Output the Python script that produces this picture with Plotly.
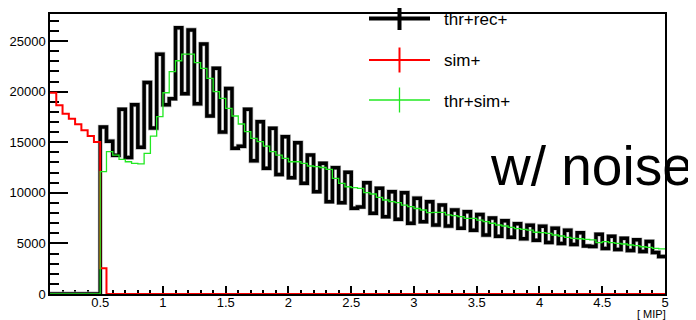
import numpy as np
import plotly.graph_objects as go

# ---------------- data ----------------
X_MIN, X_MAX, BIN_W = 0.1, 5.0, 0.05
Y_MAX = 27670

# sim+ (red)
sim_plus = [19900, 18650, 17820, 17330, 16770, 16170, 15610, 15020,
            2540] + [0] * 89

# thr+sim+ (green)
thr_sim_plus = [0] * 8 + [
    12100, 14060, 13730, 13300, 13070, 12910, 12850, 13900, 15610, 17520,
    19890, 21970, 23050, 23700, 23700, 22860, 22300, 21300, 19990, 19340,
    18350, 17590, 16800, 16040, 15380, 15050, 14620, 14060, 13730, 13410,
    13070, 13070, 12910, 12650, 12580, 12500, 12320, 11430, 10940, 10600,
    10510, 10440, 10010, 9880, 9550, 9290, 9120, 9020, 8790, 8630,
    8450, 8300, 8040, 8070, 8060, 7810, 7740, 7640, 7480, 7480,
    7310, 7150, 6990, 6820, 6720, 6590, 6460, 6390, 6320, 6100,
    6060, 6000, 5830, 5730, 5600, 5500, 5460, 5400, 5340, 5070,
    5170, 5070, 5010, 4940, 4840, 4780, 4670, 4600, 4510, 4450]

# thr+rec+ (black)
thr_rec_plus = [0] * 8 + [
    16500, 15100, 13700, 18250, 13500, 18700, 14500, 20900, 16400, 23700,
    18700, 19300, 26300, 19800, 26100, 18800, 24700, 17600, 22300, 16000,
    20300, 14400, 14600, 18250, 13170, 17030, 12420, 16370, 11800, 15550,
    11500, 14950, 10940, 13730, 10110, 12910, 9120, 12480, 9020, 12020,
    8470, 8600, 11000, 7970, 10440, 7640, 10110, 7380, 10010, 6990,
    9460, 7150, 9120, 6820, 8790, 6720, 8300, 6500, 8130, 6300,
    7850, 5830, 7500, 5700, 7250, 5600, 6950, 5450, 6800, 5300,
    6700, 5100, 6500, 5000, 6300, 4900, 6050, 4750, 4700, 5900,
    4500, 5700, 4400, 5500, 4300, 5350, 4200, 5200, 4100, 3700]

series_names = ["thr+rec+", "sim+", "thr+sim+"]
series_colors = ["#000000", "#ff0000", "#22e822"]
series_widths = [3.5, 2, 1.3]

# ---------------- figure ----------------
edges = np.round(np.arange(X_MIN, X_MAX + BIN_W / 2, BIN_W), 4)

def step_y(vals):
    return list(vals) + [vals[-1]]

fig = go.Figure()
# halo under the thick black histogram
fig.add_trace(go.Scatter(x=edges, y=step_y(thr_rec_plus), mode="lines",
                         line=dict(shape="hv", color="#b8b8b8", width=4.8),
                         hoverinfo="skip", showlegend=False))
for vals, name, col, w in zip([thr_rec_plus, sim_plus, thr_sim_plus],
                              series_names, series_colors, series_widths):
    fig.add_trace(go.Scatter(x=edges, y=step_y(vals), mode="lines", name=name,
                             line=dict(shape="hv", color=col, width=w),
                             showlegend=False))

FONT = "Liberation Sans, Arial, Helvetica, sans-serif"

# target plot-area position on the page (page has an 8px body margin)
OFF = 8
L, T, B, R = 50, 14, 294, 665
W, H = 696, 320
def px(x): return (x - L) / (R - L)
def py(y): return (B - y) / (B - T)

shapes = []
annots = []
leg_y = [18.5, 60, 100]
leg_half = [11.5, 12.5, 12.5]
for yy, hh, col, w, name in zip(leg_y, leg_half, series_colors,
                                [4, 2, 1.3], series_names):
    shapes.append(dict(type="line", xref="paper", yref="paper",
                       x0=px(369), x1=px(430), y0=py(yy), y1=py(yy),
                       line=dict(color=col, width=w)))
    shapes.append(dict(type="line", xref="paper", yref="paper",
                       x0=px(399.5), x1=px(399.5), y0=py(yy - hh), y1=py(yy + hh),
                       line=dict(color=col, width=w)))
    annots.append(dict(x=px(442), y=py(yy + 1), xref="paper", yref="paper",
                       text=name, showarrow=False, xanchor="left", yanchor="middle",
                       font=dict(family=FONT, size=17, color="black")))

annots.append(dict(x=px(488), y=py(166), xref="paper", yref="paper",
                   text="w/ noise", showarrow=False, xanchor="left", yanchor="middle",
                   font=dict(family=FONT, size=55, color="black")))
annots.append(dict(x=px(668), y=py(314), xref="paper", yref="paper",
                   text="[ MIP]", showarrow=False, xanchor="right", yanchor="middle",
                   font=dict(family=FONT, size=11, color="black")))

fig.update_layout(
    width=W, height=H,
    margin=dict(l=L - OFF, r=W - (R - OFF), t=T - OFF, b=H - (B - OFF),
                pad=0, autoexpand=False),
    paper_bgcolor="white", plot_bgcolor="white",
    showlegend=False,
    shapes=shapes, annotations=annots,
    font=dict(family=FONT, size=13, color="black"),
)
fig.update_xaxes(range=[X_MIN, X_MAX], showgrid=False, zeroline=False, automargin=False,
                 showline=True, linecolor="black", linewidth=1.5, mirror=True,
                 ticks="inside", ticklen=8, tickwidth=1.5, tickcolor="black",
                 dtick=0.5, tick0=0, layer="below traces", ticklabelstandoff=-4,
                 minor=dict(dtick=0.1, tick0=0, ticks="inside", ticklen=4,
                            tickwidth=1.5, tickcolor="black"),
                 tickfont=dict(family=FONT, size=13, color="black"))
fig.update_yaxes(range=[0, Y_MAX], showgrid=False, zeroline=False, automargin=False,
                 showline=True, linecolor="black", linewidth=1.5, mirror=True,
                 ticks="inside", ticklen=18, tickwidth=1.5, tickcolor="black",
                 dtick=5000, tick0=0, tickformat="d", layer="below traces",
                 minor=dict(dtick=1000, tick0=0, ticks="inside", ticklen=9,
                            tickwidth=1.5, tickcolor="black"),
                 tickfont=dict(family=FONT, size=13, color="black"))

fig.write_html("out.html")
